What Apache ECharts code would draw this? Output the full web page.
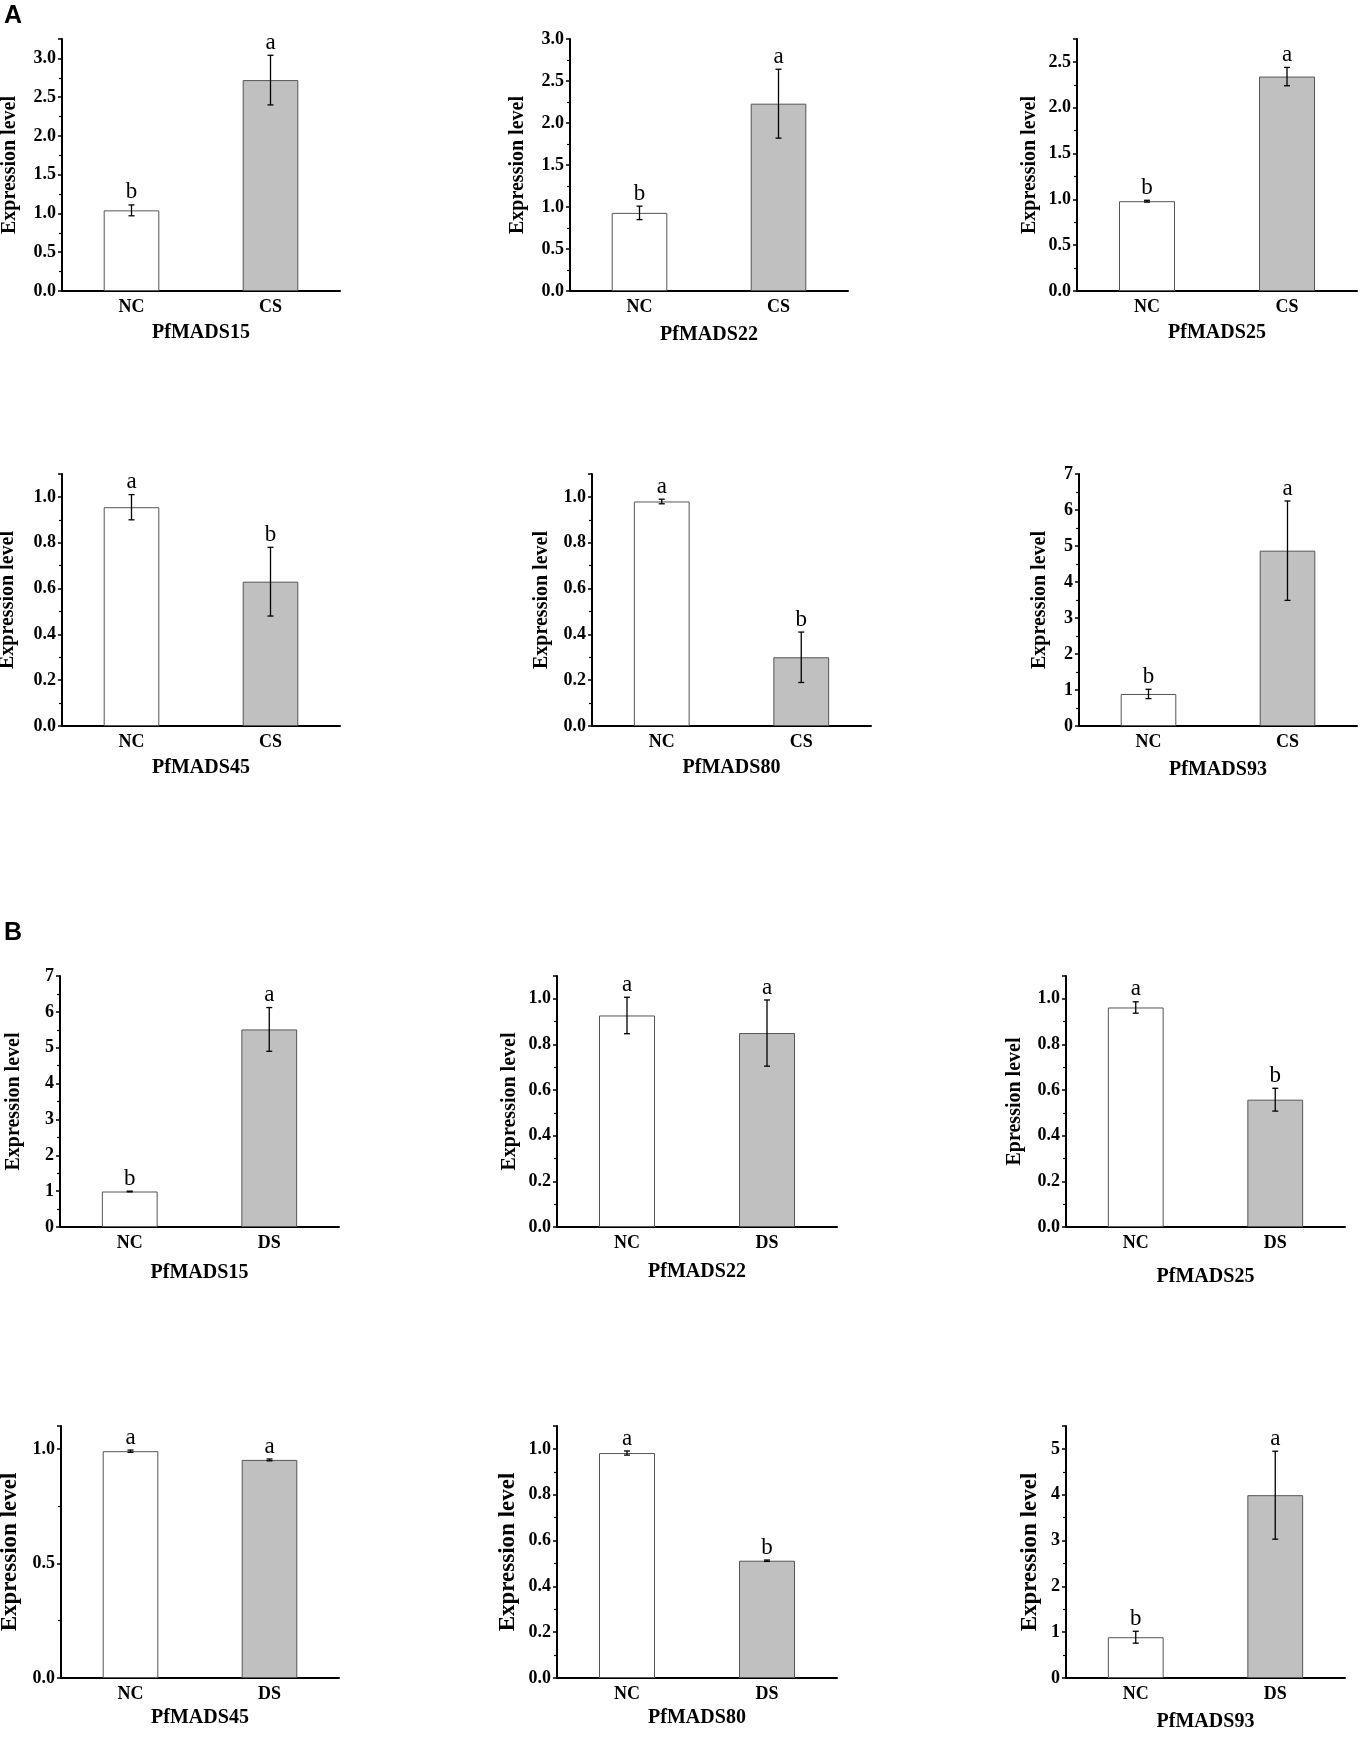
<!DOCTYPE html>
<html>
<head>
<meta charset="utf-8">
<script src="https://cdn.jsdelivr.net/npm/echarts@6/dist/echarts.min.js"></script>
<style>
  html, body { margin: 0; padding: 0; background: #fff; }
  #chart { width: 1363px; height: 1739px; }
</style>
</head>
<body>
<div id="chart"></div>
<script>
// genes, one panel per gene in each block
var genes = ['PfMADS15', 'PfMADS22', 'PfMADS25', 'PfMADS45', 'PfMADS80', 'PfMADS93'];
var coldCats = ['NC', 'CS'];
var droughtCats = ['NC', 'DS'];

// A: cold stress
var coldMean = [[1.04, 2.72], [0.93, 2.23], [0.98, 2.34], [0.955, 0.63], [0.98, 0.30], [0.89, 4.87]];
var coldErr = [[0.07, 0.32], [0.08, 0.41], [0.01, 0.10], [0.055, 0.15], [0.01, 0.11], [0.13, 1.38]];
var coldLetters = [['b', 'a'], ['b', 'a'], ['b', 'a'], ['a', 'b'], ['a', 'b'], ['b', 'a']];
var coldYMax = [3.25, 3.0, 2.75, 1.1, 1.1, 7];
var coldYStep = [0.5, 0.5, 0.5, 0.2, 0.2, 1];

// B: drought stress
var droughtMean = [[0.99, 5.51], [0.927, 0.85], [0.962, 0.558], [0.99, 0.952], [0.982, 0.512], [0.89, 3.99]];
var droughtErr = [[0.01, 0.61], [0.08, 0.145], [0.025, 0.05], [0.005, 0.004], [0.009, 0.003], [0.13, 0.96]];
var droughtLetters = [['b', 'a'], ['a', 'a'], ['a', 'b'], ['a', 'a'], ['a', 'b'], ['b', 'a']];
var droughtYMax = [7, 1.1, 1.1, 1.1, 1.1, 5.5];
var droughtYStep = [1, 0.2, 0.2, 0.5, 0.2, 1];

var yNames = ['Expression level', 'Expression level', 'Expression level',
              'Expression level', 'Expression level', 'Expression level',
              'Expression level', 'Expression level', 'Epression level',
              'Expression level', 'Expression level', 'Expression level'];

// layout: [left, top, width, height] of each plot area
var boxes = [
    [62, 39, 278, 252], [570, 39, 278, 252], [1077, 39, 280, 252],
    [62, 474, 278, 252], [592, 474, 279, 252], [1079, 474, 278, 252],
    [60, 976, 279, 251], [557, 976, 280, 251], [1066, 976, 279, 251],
    [61, 1426, 278, 252], [557, 1426, 280, 252], [1066, 1426, 279, 252]
];
var yGaps = [42, 42, 37, 44, 40, 29, 36, 37, 41, 39, 37, 24];
var xGaps = [32, 34, 32, 32, 32, 34, 36, 35, 40, 30, 30, 34];

var serif = '"Liberation Serif", "Times New Roman", serif';
var myChart = echarts.init(document.getElementById('chart'), null, { renderer: 'canvas' });

var grids = [], xAxes = [], yAxes = [], series = [];

function errRenderer(letters) {
    return function (params, api) {
        var i = api.value(0);
        var top = api.coord([i, api.value(2)]);
        var bot = api.coord([i, api.value(1)]);
        var cap = 3;
        var ls = { stroke: '#000', lineWidth: 1.3 };
        return {
            type: 'group',
            children: [
                { type: 'line', shape: { x1: top[0], y1: top[1], x2: bot[0], y2: bot[1] }, style: ls },
                { type: 'line', shape: { x1: top[0] - cap, y1: top[1], x2: top[0] + cap, y2: top[1] }, style: ls },
                { type: 'line', shape: { x1: bot[0] - cap, y1: bot[1], x2: bot[0] + cap, y2: bot[1] }, style: ls },
                {
                    type: 'text',
                    style: {
                        x: top[0], y: top[1] - 1,
                        text: letters[params.dataIndex],
                        font: '23px ' + serif,
                        fill: '#000',
                        align: 'center', verticalAlign: 'bottom'
                    }
                }
            ]
        };
    };
}

function addPanel(k, gene, cats, mean, err, letters, ymax, step) {
    var b = boxes[k];
    grids.push({ left: b[0], top: b[1], width: b[2], height: b[3], containLabel: false, outerBoundsMode: 'none' });
    xAxes.push({
        type: 'category', gridIndex: k, data: cats, boundaryGap: true,
        axisLine: { lineStyle: { color: '#000', width: 2 } },
        axisTick: { show: false },
        axisLabel: { color: '#000', fontFamily: serif, fontWeight: 'bold', fontSize: 18, margin: 7 },
        name: gene, nameLocation: 'middle', nameGap: xGaps[k],
        nameTextStyle: { color: '#000', fontFamily: serif, fontWeight: 'bold', fontSize: 20 }
    });
    yAxes.push({
        type: 'value', gridIndex: k, min: 0, max: ymax, interval: step,
        axisLine: { show: true, lineStyle: { color: '#000', width: 2 } },
        axisTick: { show: true, length: 4, lineStyle: { color: '#000', width: 1.5 } },
        minorTick: { show: true, splitNumber: 2, length: 3, lineStyle: { color: '#000', width: 1.2 } },
        splitLine: { show: false },
        axisLabel: {
            color: '#000', fontFamily: serif, fontWeight: 'bold', fontSize: 18, margin: 6,
            formatter: function (v) {
                var r = v / step;
                if (Math.abs(r - Math.round(r)) > 1e-6) return '';
                return step < 1 ? v.toFixed(1) : String(Math.round(v));
            }
        },
        name: yNames[k], nameLocation: 'middle', nameGap: yGaps[k],
        nameTextStyle: { color: '#000', fontFamily: serif, fontWeight: 'bold', fontSize: k >= 9 ? 23 : 20 }
    });
    series.push({
        type: 'bar', xAxisIndex: k, yAxisIndex: k, barWidth: '40%',
        silent: true,
        itemStyle: { borderColor: '#555', borderWidth: 1 },
        data: mean.map(function (v, i) {
            return { value: v, itemStyle: { color: i === 0 ? '#ffffff' : '#c0c0c0' } };
        })
    });
    series.push({
        type: 'custom', xAxisIndex: k, yAxisIndex: k, silent: true, z: 5,
        renderItem: errRenderer(letters),
        data: mean.map(function (v, i) { return [i, v - err[i], v + err[i]]; })
    });
}

for (var g = 0; g < genes.length; g++) {
    addPanel(g, genes[g], coldCats, coldMean[g], coldErr[g], coldLetters[g], coldYMax[g], coldYStep[g]);
}
for (var h = 0; h < genes.length; h++) {
    addPanel(6 + h, genes[h], droughtCats, droughtMean[h], droughtErr[h], droughtLetters[h], droughtYMax[h], droughtYStep[h]);
}

var option = {
    backgroundColor: '#fff',
    animation: false,
    graphic: [
        { type: 'text', left: 4, top: 4, style: { text: 'A', font: 'bold 25px "Liberation Sans", Arial, sans-serif', fill: '#000' } },
        { type: 'text', left: 4, top: 921, style: { text: 'B', font: 'bold 25px "Liberation Sans", Arial, sans-serif', fill: '#000' } }
    ],
    grid: grids,
    xAxis: xAxes,
    yAxis: yAxes,
    series: series
};
myChart.setOption(option);
</script>
</body>
</html>
